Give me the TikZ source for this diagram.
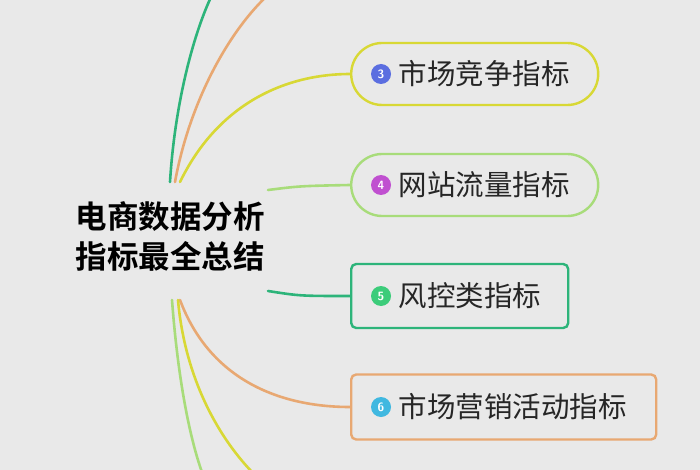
\documentclass[tikz,border=0pt]{standalone}
\usepackage{fontspec}
\newfontfamily\cjk{Noto Sans CJK SC}
\newfontfamily\cjkb{Noto Sans CJK SC Bold}
\definecolor{bg}{HTML}{E9E9E9}
\definecolor{cy}{HTML}{D8D835}
\definecolor{clg}{HTML}{A8DC7A}
\definecolor{cg}{HTML}{2DB47A}
\definecolor{co}{HTML}{E8A872}
\definecolor{k3}{HTML}{5B6EE0}
\definecolor{k4}{HTML}{C050D0}
\definecolor{k5}{HTML}{3CCC7A}
\definecolor{k6}{HTML}{40B8E0}
\begin{document}
\begin{tikzpicture}[x=1pt,y=-1pt,
  br/.style={line width=2.6pt,line cap=round},
  box/.style={draw,line width=2.4pt,fill=bg,anchor=west,minimum height=62pt,inner xsep=12pt},
  lab/.style={font=\cjk\fontsize{28.5}{30}\selectfont,text=black!85},
  num/.style={circle,fill=#1,minimum size=20pt,inner sep=0pt,text=white,font=\sffamily\bfseries\fontsize{12}{12}\selectfont}]
\fill[bg] (0,0) rectangle (700,470);
\useasboundingbox (0,0) rectangle (700,470);
\node[font=\cjkb\fontsize{31.5}{40}\selectfont,align=center] (c) at (170,236) {电商数据分析\\指标最全总结};
\node[box,draw=cy,rounded corners=31pt,minimum width=247pt] (b3) at (350,74) {};
\node[box,draw=clg,rounded corners=31pt,minimum width=247pt] (b4) at (350,185) {};
\node[box,draw=cg,rounded corners=5pt,minimum width=217pt,minimum height=64pt] (b5) at (350,296) {};
\node[box,draw=co,rounded corners=5pt,minimum width=305pt,minimum height=65pt] (b6) at (350,407) {};
\foreach \b/\n/\t in {b3/3/市场竞争指标,b4/4/网站流量指标,b5/5/风控类指标,b6/6/市场营销活动指标}{
  \node[num=k\n] (n\n) at ([xshift=31pt]\b.west) {\n};
  \node[lab,anchor=west] (t\n) at ([xshift=4pt]n\n.east) {\t};
}
\coordinate (e1) at (212,-5);
\coordinate (e2) at (268,-5);
\coordinate (e7) at (255,475);
\coordinate (e8) at (203,475);
\draw[br,cg] (170,182) .. controls (175,100) and (195,30) .. (e1);
\draw[br,co] (175,182) .. controls (190,100) and (230,30) .. (e2);
\draw[br,cy] (180,182) .. controls (220,100) and (290,74) .. (b3.west);
\draw[br,clg] (268,190) .. controls (300,186) .. (b4.west);
\draw[br,cg] (268,291) .. controls (300,296) .. (b5.west);
\draw[br,co] (180,300) .. controls (210,380) and (280,407) .. (b6.west);
\draw[br,cy] (178,300) .. controls (185,380) and (220,440) .. (e7);
\draw[br,clg] (172,300) .. controls (178,380) and (190,440) .. (e8);
\end{tikzpicture}
\end{document}
